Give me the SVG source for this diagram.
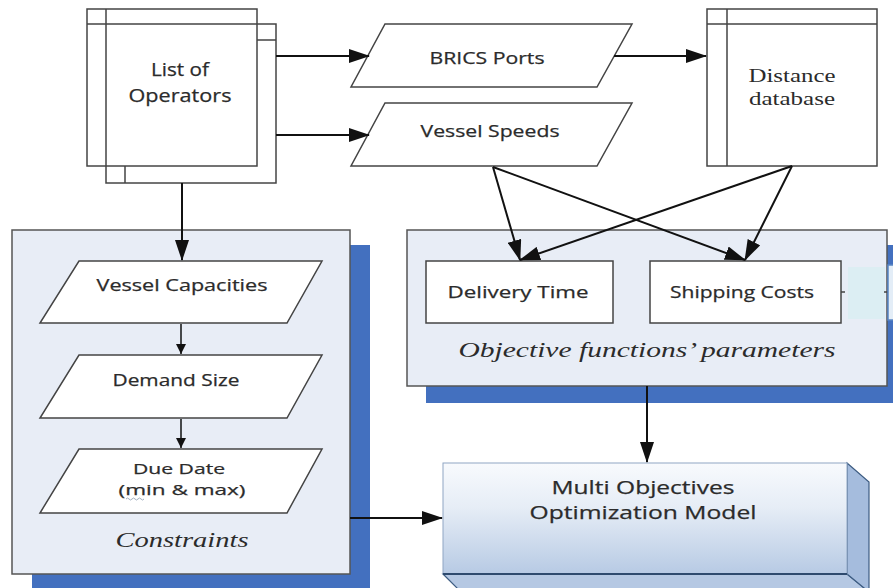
<svg xmlns="http://www.w3.org/2000/svg" width="893" height="588" viewBox="0 0 893 588">
<defs>
<style>
.sh{fill:#4370BF}
.panel{fill:#E8EDF6;stroke:#555;stroke-width:1.5}
.box{fill:#fff;stroke:#444;stroke-width:1.5}
.ln{fill:none;stroke:#444;stroke-width:1.5}
.t{font-family:"Open Sans","Liberation Sans",sans-serif;fill:#2b2b2b;text-anchor:middle;stroke:#2b2b2b;stroke-width:0.25}
.s{font-family:"Liberation Serif","Times New Roman",serif;fill:#2b2b2b;text-anchor:middle}
.c{fill:none;stroke:#111;stroke-width:2}
.cs{fill:none;stroke:#111;stroke-width:1.5}
</style>
<marker id="ah" viewBox="0 0 21 14" refX="20" refY="7" markerWidth="21" markerHeight="14" markerUnits="userSpaceOnUse" orient="auto">
<path d="M0,0 L21,7 L0,14 z" fill="#111"/>
</marker>
<marker id="ahs" viewBox="0 0 10 10" refX="10" refY="5" markerWidth="10" markerHeight="10" markerUnits="userSpaceOnUse" orient="auto">
<path d="M0,0 L10,5 L0,10 z" fill="#111"/>
</marker>
<linearGradient id="mg" x1="0" y1="0" x2="0" y2="1">
<stop offset="0" stop-color="#F8FAFD"/>
<stop offset="0.4" stop-color="#E6EDF6"/>
<stop offset="1" stop-color="#B7CAE4"/>
</linearGradient>
</defs>
<rect width="893" height="588" fill="#fff"/>

<g id="constraints-panel">
<rect class="sh" x="32" y="245" width="338" height="345"/>
<rect class="panel" x="12" y="230" width="338" height="344"/>
<text class="s" x="182" y="547" font-size="21" font-style="italic" textLength="133" lengthAdjust="spacingAndGlyphs">Constraints</text>
</g>

<g id="objective-panel">
<rect class="sh" x="426" y="245" width="470" height="158"/>
<rect class="panel" x="407" y="230" width="480" height="156"/>
<rect x="848" y="267" width="37" height="52" fill="#DCEEF3"/>
<path class="ln" d="M841,292 H845 M884,292 H888" stroke-width="1.2"/>
<rect x="888" y="265" width="10" height="55" fill="#E3EDF7" stroke="#5A86C5" stroke-width="1.5"/>
<text class="s" x="647" y="357" font-size="22" font-style="italic" textLength="377" lengthAdjust="spacingAndGlyphs">Objective functions’ parameters</text>
</g>

<g id="list-of-operators">
<rect class="box" x="106" y="24" width="170" height="159"/>
<path class="ln" d="M106,40 H276 M125,24 V183"/>
<rect class="box" x="87" y="9" width="170" height="157"/>
<path class="ln" d="M87,24 H257 M106,9 V166"/>
<text class="t" x="180" y="76" font-size="19" textLength="58" lengthAdjust="spacingAndGlyphs">List of</text>
<text class="t" x="180" y="102" font-size="19" textLength="103" lengthAdjust="spacingAndGlyphs">Operators</text>
</g>

<g id="brics-ports">
<polygon class="box" points="385,24 632,24 597,87 351,87"/>
<text class="t" x="487" y="64" font-size="17" textLength="115" lengthAdjust="spacingAndGlyphs">BRICS Ports</text>
</g>

<g id="vessel-speeds">
<polygon class="box" points="385,103 632,103 597,166 351,166"/>
<text class="t" x="490" y="137" font-size="17" textLength="139" lengthAdjust="spacingAndGlyphs">Vessel Speeds</text>
</g>

<g id="distance-database">
<rect class="box" x="707" y="9" width="170" height="157"/>
<path class="ln" d="M707,24 H877 M727,9 V166"/>
<text class="s" x="792" y="82" font-size="18" textLength="87" lengthAdjust="spacingAndGlyphs">Distance</text>
<text class="s" x="792" y="105" font-size="18" textLength="86" lengthAdjust="spacingAndGlyphs">database</text>
</g>

<g id="vessel-capacities">
<polygon class="box" points="79,261 322,261 287,323 40,323"/>
<text class="t" x="182" y="291" font-size="17" textLength="171" lengthAdjust="spacingAndGlyphs">Vessel Capacities</text>
</g>

<g id="demand-size">
<polygon class="box" points="79,355 322,355 287,418 40,418"/>
<text class="t" x="176" y="386" font-size="17" textLength="127" lengthAdjust="spacingAndGlyphs">Demand Size</text>
</g>

<g id="due-date">
<polygon class="box" points="79,449 322,449 287,513 40,513"/>
<text class="t" x="179" y="474" font-size="15" textLength="92" lengthAdjust="spacingAndGlyphs">Due Date</text>
<text class="t" x="182" y="495" font-size="15" textLength="127" lengthAdjust="spacingAndGlyphs">(min &amp; max)</text>
<path d="M126,499 q1.5,-2 3,0 t3,0 t3,0 t3,0 t3,0 t3,0" fill="none" stroke="#8A9AB0" stroke-width="0.8"/>
</g>

<g id="delivery-time">
<rect class="box" x="426" y="261" width="187" height="62"/>
<text class="t" x="518" y="298" font-size="17" textLength="141" lengthAdjust="spacingAndGlyphs">Delivery Time</text>
</g>

<g id="shipping-costs">
<rect class="box" x="650" y="261" width="191" height="62"/>
<text class="t" x="742" y="298" font-size="17" textLength="144" lengthAdjust="spacingAndGlyphs">Shipping Costs</text>
</g>

<g id="multi-objectives-model">
<polygon points="443,574 847,574 869,592 461,592" fill="#B5C8E3" stroke="#3D5C82" stroke-width="1.2"/>
<polygon points="847,463 869,482 869,592 847,574" fill="#A5BCDD" stroke="#3D5C82" stroke-width="1.2"/>
<rect x="443" y="463" width="404" height="111" fill="url(#mg)" stroke="#8FA6C4" stroke-width="1"/>
<path d="M443,574 H847" stroke="#2E4A6E" stroke-width="2"/>
<text class="t" x="643" y="494" font-size="19" textLength="183" lengthAdjust="spacingAndGlyphs">Multi Objectives</text>
<text class="t" x="643" y="519" font-size="19" textLength="227" lengthAdjust="spacingAndGlyphs">Optimization Model</text>
</g>

<g id="connectors">
<path class="c" d="M276,56 H369" marker-end="url(#ah)"/>
<path class="c" d="M276,135 H369" marker-end="url(#ah)"/>
<path class="c" d="M614,56 H706" marker-end="url(#ah)"/>
<path class="c" d="M493,167 L520,260" marker-end="url(#ah)"/>
<path class="c" d="M493,167 L745,260" marker-end="url(#ah)"/>
<path class="c" d="M792,166 L520,260" marker-end="url(#ah)"/>
<path class="c" d="M792,166 L745,260" marker-end="url(#ah)"/>
<path class="c" d="M182,183 V260" marker-end="url(#ah)"/>
<path class="cs" d="M181,324 V354" marker-end="url(#ahs)"/>
<path class="cs" d="M181,419 V448" marker-end="url(#ahs)"/>
<path class="c" d="M350,518 H442" marker-end="url(#ah)"/>
<path class="c" d="M647,386 V462" marker-end="url(#ah)"/>
</g>
</svg>
